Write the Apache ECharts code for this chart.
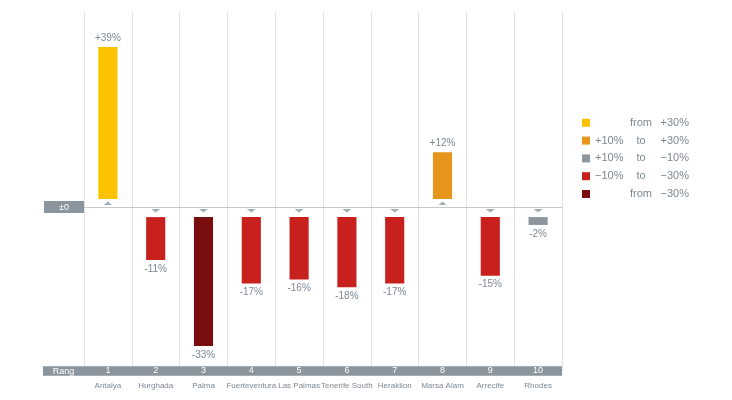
<!DOCTYPE html>
<html>
<head>
<meta charset="utf-8">
<script src="https://cdn.jsdelivr.net/npm/echarts@6/dist/echarts.min.js"></script>
<style>
html,body{margin:0;padding:0;background:#fff;}
#chart{width:732px;height:400px;}
</style>
</head>
<body>
<div id="chart"></div>
<script>
// ---- data ----
const categories = ['Antalya', 'Hurghada', 'Palma', 'Fuerteventura', 'Las Palmas', 'Tenerife South', 'Heraklion', 'Marsa Alam', 'Arrecife', 'Rhodes'];
const ranks = ['1', '2', '3', '4', '5', '6', '7', '8', '9', '10'];
const changes = [39, -11, -33, -17, -16, -18, -17, 12, -15, -2];
const classNames = ['from +30%', '+10% to +30%', '+10% to −10%', '−10% to −30%', 'from −30%'];
const classParts = [['', 'from', '+30%'], ['+10%', 'to', '+30%'], ['+10%', 'to', '−10%'], ['−10%', 'to', '−30%'], ['', 'from', '−30%']];
const classThresholds = [30, 10, -10, -30];

// ---- styles ----
const classColors = ['#fbc200', '#e6961a', '#8b969f', '#c8201d', '#7a0d0d'];
const FONT = '"Liberation Sans", Arial, sans-serif';
const TEXT = '#7d8891';
const BAND = '#8a959e';

function classOf(v) {
  if (v >= classThresholds[0]) return 0;
  if (v >= classThresholds[1]) return 1;
  if (v > classThresholds[2]) return 2;
  if (v > classThresholds[3]) return 3;
  return 4;
}

function fmt(v) { return (v > 0 ? '+' : '') + v + '%'; }

function renderItem(params, api) {
  const i = api.value(0), v = api.value(1);
  const base = api.coord([i, 0]);
  const end = api.coord([i, v]);
  const w = api.size([1, 0])[0] * 0.4;
  const pos = v >= 0;
  const dir = pos ? -1 : 1;
  const gap = pos ? 8 : 10;
  const y0 = base[1] + dir * gap;
  const y1 = end[1] + dir * gap;
  const x = base[0];
  const marker = pos
    ? [[x - 4, base[1] - 2], [x + 4, base[1] - 2], [x, base[1] - 5.5]]
    : [[x - 4.5, base[1] + 2], [x + 4.5, base[1] + 2], [x, base[1] + 5.5]];
  return {
    type: 'group',
    children: [
      { type: 'polygon', shape: { points: marker }, style: { fill: '#a3adb5' } },
      { type: 'rect', shape: { x: x - w / 2, y: Math.min(y0, y1), width: w, height: Math.abs(y1 - y0) },
        style: { fill: api.visual('color') } },
      { type: 'text', x: x, y: pos ? y1 - 4 : y1 + 4,
        style: { text: fmt(v), fill: TEXT, font: '10px ' + FONT, align: 'center',
                 verticalAlign: pos ? 'bottom' : 'top' } }
    ]
  };
}

const series = classNames.map((name, k) => ({
  type: 'custom',
  name: name,
  itemStyle: { color: classColors[k] },
  renderItem: renderItem,
  encode: { x: 0, y: 1 },
  data: changes.map((v, i) => [i, v]).filter(d => classOf(d[1]) === k),
  z: 3
}));

series.push({
  type: 'line',
  name: 'zero',
  data: [],
  silent: true,
  markLine: {
    silent: true,
    symbol: 'none',
    lineStyle: { color: '#c8c8c8', type: 'solid', width: 1 },
    label: {
      position: 'start', distance: 0, formatter: '±0', color: '#fff',
      backgroundColor: BAND, padding: [2, 15, 1, 15], fontSize: 9, fontFamily: FONT
    },
    data: [{ yAxis: 0 }]
  }
});

const chart = echarts.init(document.getElementById('chart'), null, { renderer: 'canvas' });
chart.setOption({
  animation: false,
  backgroundColor: '#fff',
  grid: { left: 84, right: 170, top: 12, bottom: 29 },
  xAxis: {
    type: 'category',
    data: categories,
    axisLine: { show: true, onZero: false, lineStyle: { color: BAND, width: 9.5, cap: 'butt' } },
    axisTick: { show: false },
    splitLine: { show: true, lineStyle: { color: '#e3e3e3', width: 1 } },
    axisLabel: {
      interval: 0,
      margin: -5,
      formatter: (val, idx) => '{r|' + ranks[idx] + '}\n{c|' + val + '}',
      rich: {
        r: { color: '#fff', fontSize: 9, lineHeight: 10, fontFamily: FONT },
        c: { color: TEXT, fontSize: 8, lineHeight: 19, fontFamily: FONT }
      }
    }
  },
  yAxis: {
    type: 'value', min: -42, max: 50,
    axisLine: { show: false }, axisTick: { show: false },
    axisLabel: { show: false }, splitLine: { show: false }
  },
  legend: {
    data: classNames,
    orient: 'vertical',
    left: 582, top: 117.3, padding: 0,
    icon: 'rect', itemWidth: 8, itemHeight: 8, itemGap: 6.8,
    selectedMode: false,
    formatter: name => {
      const p = classParts[classNames.indexOf(name)];
      return '{a|' + p[0] + '}{b|' + p[1] + '}{c|' + p[2] + '}';
    },
    textStyle: {
      color: TEXT, fontSize: 11, fontFamily: FONT,
      rich: {
        a: { width: 31, fontSize: 11, lineHeight: 12, color: TEXT, fontFamily: FONT },
        b: { width: 30, align: 'center', fontSize: 11, lineHeight: 12, color: TEXT, fontFamily: FONT },
        c: { width: 33, align: 'right', fontSize: 11, lineHeight: 12, color: TEXT, fontFamily: FONT }
      }
    }
  },
  graphic: [{
    type: 'group', left: 43, top: 366.3,
    children: [
      { type: 'rect', shape: { x: 0, y: 0, width: 41, height: 9.5 }, style: { fill: BAND } },
      { type: 'text', x: 20.5, y: 5, style: { text: 'Rang', fill: '#fff', font: '9px ' + FONT, align: 'center', verticalAlign: 'middle' } }
    ]
  }],
  series: series
});
</script>
</body>
</html>
